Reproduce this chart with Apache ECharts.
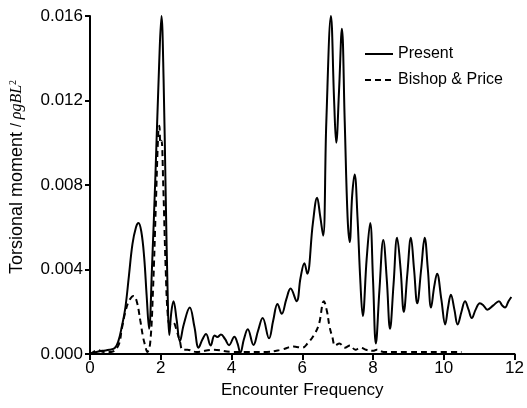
<!DOCTYPE html>
<html>
<head>
<meta charset="utf-8">
<script src="https://cdn.jsdelivr.net/npm/echarts@6/dist/echarts.min.js"></script>
<style>
  html, body { margin: 0; padding: 0; background: #fff; }
  #chart { width: 527px; height: 408px; }
</style>
</head>
<body>
<div id="chart"></div>
<script>
// Torsional moment response vs. encounter frequency
const presentFreq = [0, 0.15, 0.35, 0.55, 0.7, 0.8, 0.9, 1.0, 1.1, 1.2, 1.3, 1.37, 1.45, 1.53, 1.6, 1.67,
  1.75, 1.85, 1.95, 2.02, 2.08, 2.14, 2.2, 2.24, 2.3, 2.36, 2.45, 2.54, 2.65, 2.82, 2.95, 3.07,
  3.18, 3.28, 3.41, 3.52, 3.6, 3.7, 3.82, 3.93, 4.08, 4.17, 4.25, 4.35, 4.46, 4.62, 4.75, 4.88,
  5.06, 5.18, 5.3, 5.42, 5.55, 5.67, 5.84, 5.95, 6.06, 6.14, 6.3, 6.42, 6.5, 6.59, 6.68, 6.81,
  6.9, 6.96, 7.04, 7.12, 7.2, 7.28, 7.34, 7.41, 7.48, 7.56, 7.64, 7.71, 7.82, 7.92, 8.0, 8.08,
  8.18, 8.29, 8.39, 8.48, 8.58, 8.68, 8.78, 8.87, 8.97, 9.07, 9.16, 9.25, 9.36, 9.46, 9.55, 9.64,
  9.73, 9.81, 9.93, 10.04, 10.12, 10.2, 10.3, 10.39, 10.5, 10.6, 10.7, 10.79, 10.9, 11.02, 11.12,
  11.23, 11.4, 11.56, 11.65, 11.73, 11.83, 11.91];
const presentMoment = [0, 0.00008, 0.00015, 0.0002, 0.00028, 0.0006, 0.0013, 0.0022, 0.0037, 0.0052, 0.006, 0.0062, 0.0058, 0.0046, 0.0028, 0.0012,
  0.004, 0.0085, 0.0135, 0.016, 0.013, 0.0075, 0.0025, 0.0009, 0.002, 0.0025, 0.0016, 0.0006, 0.0014, 0.0022, 0.0013, 0.0003,
  0.0007, 0.00095, 0.0004, 0.00088, 0.0008, 0.00092, 0.0007, 0.00042, 0.00082, 0.0005, 0.00006, 0.0007, 0.00117, 0.00043, 0.0011, 0.0017,
  0.00074, 0.0016, 0.00237, 0.0019, 0.0026, 0.0031, 0.0025, 0.0036, 0.0043, 0.0038, 0.0062, 0.0074, 0.0066, 0.0056, 0.011, 0.016,
  0.012, 0.01, 0.0125, 0.0154, 0.011, 0.0065, 0.0053, 0.0075, 0.0085, 0.0065, 0.0035, 0.0018, 0.0045, 0.0062, 0.0035, 0.0005,
  0.003, 0.0054, 0.0035, 0.0012, 0.0033, 0.0055, 0.004, 0.002, 0.0038, 0.0055, 0.004, 0.0024, 0.004, 0.0055, 0.004, 0.0022,
  0.0032, 0.0038, 0.0026, 0.0014, 0.0022, 0.0028, 0.0021, 0.0014, 0.002, 0.0025, 0.0021, 0.0017, 0.0021, 0.0024, 0.0023,
  0.0021, 0.0023, 0.0025, 0.0023, 0.0022, 0.0025, 0.0027];

const bishopFreq = [0, 0.1, 0.2, 0.4, 0.6, 0.8, 0.9, 1.0, 1.1, 1.23, 1.32, 1.42, 1.5, 1.56, 1.62,
  1.7, 1.78, 1.86, 1.93, 1.96, 1.99, 2.02, 2.07, 2.14, 2.2, 2.26, 2.35, 2.45, 2.54, 2.62, 2.75,
  3.0, 3.5, 4.0, 4.5, 5.0, 5.4, 5.75, 6.0, 6.15, 6.33, 6.47, 6.61, 6.7, 6.77, 6.85, 6.93,
  7.05, 7.2, 7.35, 7.5, 7.65, 7.8, 8.0, 8.1, 8.3, 9.0, 10.0, 10.5];
const bishopMoment = [0, 0.0001, 0.0002, 0.0001, 0.0001, 0.0004, 0.0012, 0.002, 0.0025, 0.00275, 0.0025, 0.0016, 0.0008, 0.0004, 0.0001,
  0.0005, 0.003, 0.007, 0.0105, 0.0108, 0.01, 0.0101, 0.008, 0.004, 0.0018, 0.0014, 0.0015, 0.0011, 0.0006, 0.0002, 0.0002,
  0.0001, 0.0002, 0.0001, 0.0001, 0.0001, 0.0002, 0.00035, 0.0003, 0.0005, 0.0009, 0.0014, 0.0025, 0.002, 0.0013, 0.0008, 0.0004,
  0.0005, 0.0003, 0.0004, 0.0002, 0.0003, 0.0002, 0.00015, 0.0002, 0.0001, 0.0001, 0.0001, 0.0001];

const xTicks = [0, 2, 4, 6, 8, 10, 12];
const yTicks = [0, 0.004, 0.008, 0.012, 0.016];

const zip = (xs, ys) => xs.map((x, i) => [x, ys[i]]);

const chart = echarts.init(document.getElementById('chart'));
const axisColor = '#000';
const font = 'Liberation Sans, Arial, sans-serif';

chart.setOption({
  animation: false,
  backgroundColor: '#fff',
  grid: { left: 89.5, right: 10, top: 16, bottom: 54 },
  legend: {
    orient: 'vertical',
    left: 359,
    top: 41,
    itemWidth: 28,
    itemHeight: 14,
    itemGap: 10,
    itemStyle: { opacity: 0 },
    textStyle: { fontFamily: font, fontSize: 16, color: '#000' },
    data: ['Present', 'Bishop & Price']
  },
  xAxis: {
    type: 'value',
    min: xTicks[0],
    max: xTicks[xTicks.length - 1],
    interval: 2,
    name: 'Encounter Frequency',
    nameLocation: 'middle',
    nameGap: 24,
    nameTextStyle: { fontFamily: font, fontSize: 17, color: '#000' },
    axisLine: { lineStyle: { color: axisColor, width: 2 } },
    axisTick: { show: true, inside: false, length: 6, lineStyle: { color: axisColor, width: 2 } },
    axisLabel: { fontFamily: font, fontSize: 17, color: '#000', margin: 6 },
    splitLine: { show: false }
  },
  yAxis: {
    type: 'value',
    min: yTicks[0],
    max: yTicks[yTicks.length - 1],
    interval: 0.004,
    name: '{a|Torsional moment }{b|/ }{c|ρgBL}{s|2}',
    nameLocation: 'middle',
    nameGap: 64,
    nameTextStyle: {
      color: '#000',
      padding: [0, 0, 0, 16],
      rich: {
        a: { fontFamily: font, fontSize: 18, color: '#000' },
        b: { fontFamily: font, fontSize: 14, color: '#000' },
        c: { fontFamily: 'Liberation Serif, Times New Roman, serif', fontStyle: 'italic', fontSize: 16, color: '#000' },
        s: { fontFamily: 'Liberation Serif, Times New Roman, serif', fontSize: 10, color: '#000', verticalAlign: 'top', padding: [0, 0, 8, 0] }
      }
    },
    axisLine: { show: true, lineStyle: { color: axisColor, width: 2 } },
    axisTick: { show: true, inside: false, length: 5, lineStyle: { color: axisColor, width: 2 } },
    axisLabel: {
      fontFamily: font, fontSize: 17, color: '#000', margin: 7,
      formatter: v => v.toFixed(3)
    },
    splitLine: { show: false }
  },
  series: [
    {
      name: 'Present',
      type: 'line',
      data: zip(presentFreq, presentMoment),
      smooth: 0.4,
      symbol: 'none',
      lineStyle: { color: '#000', width: 2, type: 'solid' },
      itemStyle: { color: '#000' },
      z: 3
    },
    {
      name: 'Bishop & Price',
      type: 'line',
      data: zip(bishopFreq, bishopMoment),
      smooth: 0.4,
      symbol: 'none',
      lineStyle: { color: '#000', width: 2, type: [6, 4] },
      itemStyle: { color: '#000' },
      z: 2
    }
  ]
});
</script>
</body>
</html>
